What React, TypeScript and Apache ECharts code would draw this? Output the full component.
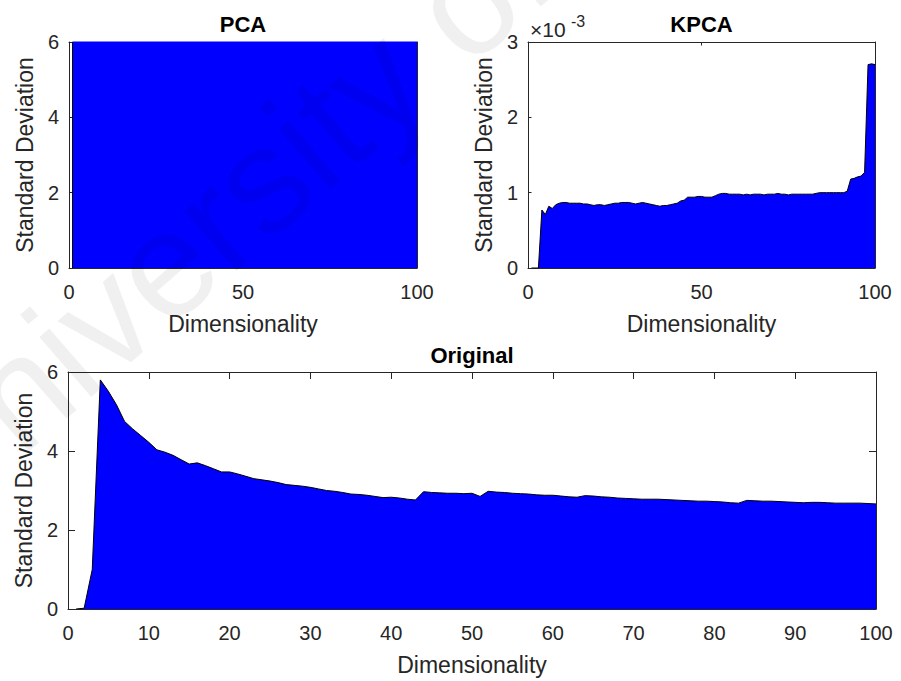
import React, { useEffect, useRef } from "react";
import * as echarts from "echarts";

// Standard deviation per dimension (index 1..100)
const pcaStd: number[] = [
  48.2, 41.5, 37.9, 35.1, 32.8, 30.9, 29.4, 28.0, 26.8, 25.7,
  24.8, 23.9, 23.1, 22.4, 21.7, 21.1, 20.5, 20.0, 19.5, 19.0,
  18.6, 18.2, 17.8, 17.4, 17.1, 16.7, 16.4, 16.1, 15.8, 15.6,
  15.3, 15.1, 14.8, 14.6, 14.4, 14.2, 14.0, 13.8, 13.6, 13.4,
  13.2, 13.1, 12.9, 12.7, 12.6, 12.4, 12.3, 12.1, 12.0, 11.9,
  11.7, 11.6, 11.5, 11.3, 11.2, 11.1, 11.0, 10.9, 10.8, 10.7,
  10.6, 10.5, 10.4, 10.3, 10.2, 10.1, 10.0, 9.9, 9.8, 9.7,
  9.6, 9.6, 9.5, 9.4, 9.3, 9.2, 9.2, 9.1, 9.0, 8.9,
  8.9, 8.8, 8.7, 8.7, 8.6, 8.5, 8.5, 8.4, 8.3, 8.3,
  8.2, 8.1, 8.1, 8.0, 7.9, 7.9, 7.8, 7.7, 7.7, 7.6,
];

// KPCA values in units of 1e-3
const kpcaStd: number[] = [
  0, 0, 0, 0.77, 0.71, 0.82, 0.79, 0.84, 0.86, 0.87,
  0.87, 0.86, 0.86, 0.86, 0.86, 0.85, 0.85, 0.84, 0.83, 0.84,
  0.84, 0.83, 0.84, 0.85, 0.86, 0.86, 0.87, 0.87, 0.87, 0.86,
  0.85, 0.86, 0.87, 0.86, 0.85, 0.84, 0.83, 0.82, 0.83, 0.83,
  0.84, 0.85, 0.86, 0.89, 0.9, 0.94, 0.94, 0.94, 0.95, 0.95,
  0.94, 0.94, 0.94, 0.96, 0.98, 0.99, 0.99, 0.98, 0.98, 0.98,
  0.98, 0.97, 0.98, 0.97, 0.98, 0.98, 0.98, 0.97, 0.98, 0.98,
  0.98, 0.99, 0.98, 0.98, 0.97, 0.98, 0.98, 0.98, 0.98, 0.98,
  0.98, 0.98, 0.99, 1.0, 1.0, 1.0, 1.0, 1.0, 1.0, 1.0,
  1.0, 1.02, 1.18, 1.19, 1.21, 1.22, 1.27, 2.7, 2.71, 2.7,
];

const originalStd: number[] = [
  0, 0.02, 1.0, 5.8, 5.51, 5.17, 4.75, 4.56, 4.39, 4.22,
  4.03, 3.97, 3.89, 3.78, 3.67, 3.7, 3.63, 3.55, 3.47, 3.47,
  3.42, 3.36, 3.3, 3.27, 3.24, 3.2, 3.15, 3.13, 3.11, 3.08,
  3.04, 3.0, 2.98, 2.95, 2.91, 2.9, 2.88, 2.85, 2.82, 2.83,
  2.81, 2.78, 2.76, 2.97, 2.95, 2.94, 2.93, 2.93, 2.92, 2.93,
  2.85, 2.98, 2.96, 2.95, 2.93, 2.92, 2.91, 2.89, 2.88, 2.88,
  2.86, 2.84, 2.83, 2.87, 2.86, 2.84, 2.83, 2.81, 2.8, 2.79,
  2.78, 2.78, 2.78, 2.77, 2.76, 2.75, 2.74, 2.73, 2.73, 2.72,
  2.71, 2.69, 2.68, 2.75, 2.74, 2.73, 2.73, 2.72, 2.71, 2.7,
  2.69, 2.7, 2.7, 2.69, 2.68, 2.68, 2.68, 2.68, 2.67, 2.66,
];

const titles = ["PCA", "KPCA", "Original"];
const xName = "Dimensionality";
const yName = "Standard Deviation";
const kpcaExponent = "-3";
const watermark = "University of";

const FONT = "'Liberation Sans', Arial, Helvetica, sans-serif";
const AX = "#262626";

const toXY = (arr: number[]) => arr.map((v, i) => [i + 1, v]);

export default function App() {
  const ref = useRef<HTMLDivElement>(null);
  useEffect(() => {
    if (!ref.current) return;
    const chart = echarts.init(ref.current, undefined, { renderer: "svg" });

    const grids = [
      { left: 69, top: 42, width: 348, height: 226 },
      { left: 528, top: 42, width: 347, height: 226 },
      { left: 68, top: 372, width: 808, height: 237 },
    ];
    const xCfg = [
      { min: 0, max: 100, interval: 50, tick: 3.5 },
      { min: 0, max: 100, interval: 50, tick: 3.5 },
      { min: 0, max: 100, interval: 10, tick: 7 },
    ];
    const yCfg = [
      { min: 0, max: 6, interval: 2 },
      { min: 0, max: 3, interval: 1 },
      { min: 0, max: 6, interval: 2 },
    ];

    const xAxes: any[] = [];
    const yAxes: any[] = [];
    grids.forEach((g, i) => {
      const tl = xCfg[i].tick;
      xAxes.push({
        type: "value",
        gridIndex: i,
        position: "bottom",
        min: xCfg[i].min,
        max: xCfg[i].max,
        interval: xCfg[i].interval,
        name: xName,
        nameLocation: "middle",
        nameGap: 44,
        nameTextStyle: { fontFamily: FONT, fontSize: 23, color: AX },
        axisLine: { show: true, lineStyle: { color: AX, width: 1 } },
        axisTick: { show: true, inside: true, length: tl, lineStyle: { color: AX } },
        axisLabel: { show: true, margin: 14, fontFamily: FONT, fontSize: 20, color: AX },
        splitLine: { show: false },
      });
      xAxes.push({
        type: "value",
        gridIndex: i,
        position: "top",
        min: xCfg[i].min,
        max: xCfg[i].max,
        interval: xCfg[i].interval,
        axisLine: { show: true, onZero: false, lineStyle: { color: AX, width: 1 } },
        axisTick: { show: true, inside: true, length: tl, lineStyle: { color: AX } },
        axisLabel: { show: false },
        splitLine: { show: false },
      });
      yAxes.push({
        type: "value",
        gridIndex: i,
        position: "left",
        min: yCfg[i].min,
        max: yCfg[i].max,
        interval: yCfg[i].interval,
        name: yName,
        nameLocation: "middle",
        nameGap: 33,
        nameTextStyle: { fontFamily: FONT, fontSize: 23, color: AX },
        axisLine: { show: true, lineStyle: { color: AX, width: 1 } },
        axisTick: { show: true, inside: true, length: tl, lineStyle: { color: AX } },
        axisLabel: { show: true, margin: 10, fontFamily: FONT, fontSize: 20, color: AX },
        splitLine: { show: false },
      });
      yAxes.push({
        type: "value",
        gridIndex: i,
        position: "right",
        min: yCfg[i].min,
        max: yCfg[i].max,
        interval: yCfg[i].interval,
        axisLine: { show: true, onZero: false, lineStyle: { color: AX, width: 1 } },
        axisTick: { show: true, inside: true, length: tl, lineStyle: { color: AX } },
        axisLabel: { show: false },
        splitLine: { show: false },
      });
    });

    const areaSeries = (data: number[], i: number, extra: any = {}) => ({
      type: "line",
      xAxisIndex: i * 2,
      yAxisIndex: i * 2,
      data: toXY(data),
      showSymbol: false,
      symbol: "none",
      clip: true,
      lineStyle: { color: "#000000", width: 1 },
      areaStyle: { color: "#0000ff", opacity: 1 },
      z: 3,
      ...extra,
    });

    const centers = grids.map((g) => g.left + g.width / 2);

    chart.setOption({
      animation: false,
      backgroundColor: "#ffffff",
      grid: grids.map((g) => ({ ...g, containLabel: false })),
      xAxis: xAxes,
      yAxis: yAxes,
      series: [
        areaSeries(pcaStd, 0, {
          markLine: {
            silent: true,
            symbol: "none",
            label: { show: false },
            lineStyle: { color: "#000000", type: "solid", width: 1 },
            data: [{ xAxis: 1 }],
          },
        }),
        areaSeries(kpcaStd, 1),
        areaSeries(originalStd, 2),
      ],
      graphic: [
        {
          type: "text",
          x: centers[0],
          y: 24,
          style: { text: titles[0], font: `bold 22px ${FONT}`, fill: "#000", align: "center", verticalAlign: "middle" },
        },
        {
          type: "text",
          x: centers[1],
          y: 24,
          style: { text: titles[1], font: `bold 22px ${FONT}`, fill: "#000", align: "center", verticalAlign: "middle" },
        },
        {
          type: "text",
          x: centers[2],
          y: 355,
          style: { text: titles[2], font: `bold 22px ${FONT}`, fill: "#000", align: "center", verticalAlign: "middle" },
        },
        {
          type: "text",
          x: 530,
          y: 29,
          style: { text: "\u00d710", font: `21px ${FONT}`, fill: AX, align: "left", verticalAlign: "middle" },
        },
        {
          type: "text",
          x: 571,
          y: 21,
          style: { text: kpcaExponent, font: `16px ${FONT}`, fill: AX, align: "left", verticalAlign: "middle" },
        },
        {
          type: "text",
          x: -95,
          y: 490,
          rotation: (41 * Math.PI) / 180,
          z: 100,
          silent: true,
          style: { text: watermark, font: `150px ${FONT}`, fill: "rgba(0,0,0,0.06)", align: "left", verticalAlign: "middle" },
        },
      ],
    });
    return () => chart.dispose();
  }, []);

  return (
    <div
      ref={ref}
      style={{ position: "absolute", left: 0, top: 0, width: 901, height: 681, background: "#fff" }}
    />
  );
}
